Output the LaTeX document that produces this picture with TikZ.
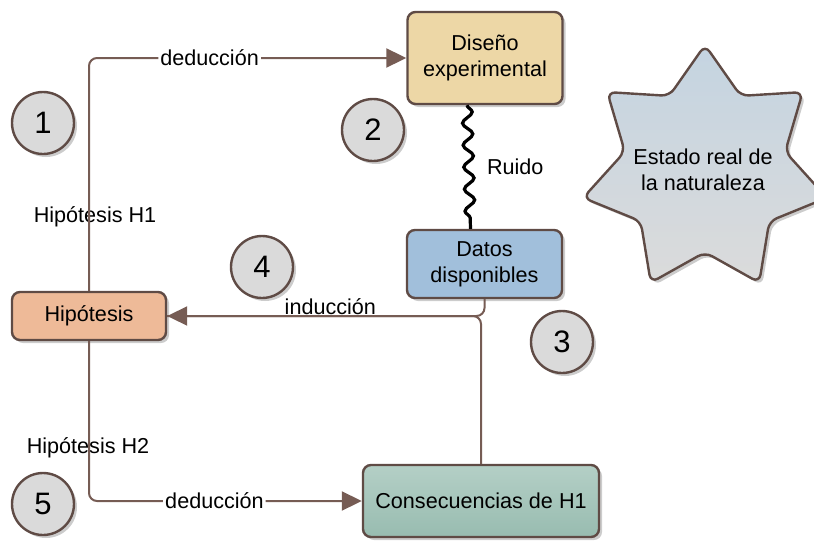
\documentclass[tikz,border=0pt]{standalone}
\usepackage{fontspec}
\setmainfont{Liberation Sans}
\usetikzlibrary{arrows.meta,shapes.geometric,shadows,decorations.pathmorphing,positioning}

\definecolor{linea}{HTML}{765C54}
\definecolor{borde}{HTML}{5F4B45}
\definecolor{arena}{HTML}{EDD7A6}
\definecolor{azul}{HTML}{A1BFDB}
\definecolor{salmon}{HTML}{EEBA98}
\definecolor{verdeA}{HTML}{B4CFC6}
\definecolor{verdeB}{HTML}{98BCB0}
\definecolor{gris}{HTML}{DADADA}
\definecolor{cieloA}{HTML}{C4D4E1}
\definecolor{cieloB}{HTML}{DBDBDB}

\begin{document}
\begin{tikzpicture}[x=0.5pt, y=-0.5pt,
    every node/.style={font=\fontsize{10.8}{13}\selectfont},
    sombra/.style={drop shadow={shadow xshift=1.5pt, shadow yshift=-1.5pt, fill=black, opacity=0.2}},
    caja/.style={draw=borde, line width=1.2pt, rounded corners=4pt, align=center, inner sep=0pt, sombra},
    num/.style={circle, draw=borde, line width=1.2pt, fill=gris, minimum size=31pt, inner sep=0pt,
        font=\fontsize{15.5}{18}\selectfont, sombra},
    estrella/.style={star, star points=7, star point ratio=1.52, minimum size=125pt, inner sep=0pt,
        draw=borde, line width=1.2pt, rounded corners=4pt, top color=cieloA, bottom color=cieloB, sombra},
    conn/.style={draw=linea, line width=1pt, rounded corners=4pt, -{Triangle[length=10pt,width=9.5pt]}},
    ruido/.style={black, line width=1.6pt, decorate, decoration={snake, amplitude=2.5pt, segment length=11pt}}]

    % marco de la figura
    \useasboundingbox (0,0) rectangle (814,541);

    % estado real de la naturaleza
    \node[estrella] (est) at (705,170) {};
    \node[align=center] (estxt) at (703,170) {Estado real de\\la naturaleza};

    % cajas
    \node[caja, fill=arena, minimum width=77.5pt, minimum height=46pt] (dis) at (485,58) {Diseño\\experimental};
    \node[caja, fill=azul, minimum width=77.5pt, minimum height=34pt] (dat) at (484.5,264) {Datos\\disponibles};
    \node[caja, fill=salmon, minimum width=77pt, minimum height=24pt] (hip) at (89,316) {Hipótesis};
    \node[caja, top color=verdeA, bottom color=verdeB, minimum width=118pt, minimum height=36pt] (cons) at (481,501) {Consecuencias de H1};

    % pasos numerados
    \node[num] (n1) at (43,123) {1};
    \node[num] (n2) at (373,130) {2};
    \node[num] (n3) at (562,342) {3};
    \node[num] (n4) at (262,267) {4};
    \node[num] (n5) at (43,504) {5};

    % textos sueltos
    \node (h1) at (95,217) {Hipótesis H1};
    \node (h2) at (88,448) {Hipótesis H2};

    % conectores
    \draw[conn] (hip.north) |- (dis.west) node[pos=0.69, fill=white, inner sep=1pt] {deducción};
    \draw[conn] (hip.south) |- (cons.west) node[pos=0.73, fill=white, inner sep=1pt] {deducción};
    \draw[conn, -] (dat.south) |- (hip.east);
    \draw[conn] (cons.north) |- (hip.east) node[pos=0.74, anchor=base, inner sep=0pt, yshift=1pt] {inducción};

    % ruido
    \draw[ruido] ([xshift=-9pt]dis.south) -- ([xshift=-7pt]dat.north);
    \node[anchor=west] (ru) at (480,167) {Ruido};
\end{tikzpicture}
\end{document}
